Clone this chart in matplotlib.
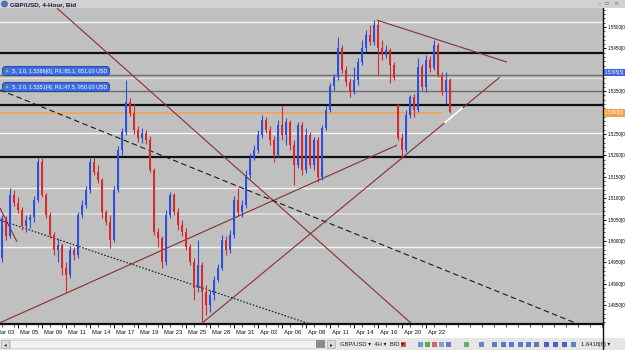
import matplotlib
matplotlib.use('Agg')
import matplotlib.pyplot as plt
import numpy as np
from matplotlib.patches import Rectangle, FancyBboxPatch, Circle
from matplotlib.transforms import Affine2D, blended_transform_factory
from matplotlib.ticker import MultipleLocator, FixedLocator

# ---------------- data (GBP/USD 4-hour candles) ----------------
opens = [1.4960, 1.5054, 1.5012, 1.5107, 1.5089, 1.5072, 1.5035, 1.5049, 1.5056, 1.5096,
         1.5185, 1.5107, 1.5061, 1.5014, 1.4979, 1.4991, 1.4937, 1.4921, 1.4979, 1.4967,
         1.5061, 1.5084, 1.5119, 1.5185, 1.5161, 1.5143, 1.5068, 1.5044, 1.5002, 1.5119,
         1.5213, 1.5255, 1.5325, 1.5299, 1.5259, 1.5241, 1.5252, 1.5236, 1.5166, 1.5021,
         1.5007, 1.4951, 1.5061, 1.5107, 1.5068, 1.5037, 1.5021, 1.4986, 1.4951, 1.4890,
         1.4944, 1.4881, 1.4850, 1.4874, 1.4909, 1.4937, 1.5002, 1.4979, 1.5014, 1.5096,
         1.5068, 1.5084, 1.5154, 1.5194, 1.5213, 1.5248, 1.5283, 1.5259, 1.5236, 1.5201,
         1.5271, 1.5248, 1.5278, 1.5224, 1.5178, 1.5271, 1.5166, 1.5248, 1.5178, 1.5236,
         1.5150, 1.5264, 1.5306, 1.5362, 1.5383, 1.5451, 1.5400, 1.5372, 1.5348, 1.5376,
         1.5418, 1.5451, 1.5481, 1.5465, 1.5505, 1.5451, 1.5435, 1.5446, 1.5411, 1.5318,
         1.5241, 1.5213, 1.5294, 1.5336, 1.5306, 1.5407, 1.5360, 1.5423, 1.5404, 1.5458,
         1.5388, 1.5348, 1.5376]
highs = [1.5061, 1.5059, 1.5124, 1.5119, 1.5103, 1.5080, 1.5061, 1.5063, 1.5105, 1.5194,
         1.5196, 1.5112, 1.5068, 1.5021, 1.5007, 1.4995, 1.4951, 1.4988, 1.4986, 1.5068,
         1.5096, 1.5129, 1.5194, 1.5196, 1.5178, 1.5147, 1.5072, 1.5061, 1.5129, 1.5222,
         1.5264, 1.5376, 1.5334, 1.5320, 1.5269, 1.5264, 1.5259, 1.5245, 1.5171, 1.5030,
         1.5012, 1.5072, 1.5115, 1.5112, 1.5077, 1.5049, 1.5030, 1.4993, 1.4960, 1.5002,
         1.4951, 1.4897, 1.4886, 1.4918, 1.4946, 1.5014, 1.5012, 1.5026, 1.5105, 1.5124,
         1.5096, 1.5166, 1.5206, 1.5224, 1.5259, 1.5294, 1.5290, 1.5269, 1.5245, 1.5283,
         1.5318, 1.5287, 1.5283, 1.5236, 1.5278, 1.5278, 1.5264, 1.5255, 1.5243, 1.5243,
         1.5271, 1.5315, 1.5369, 1.5390, 1.5477, 1.5458, 1.5409, 1.5381, 1.5407, 1.5428,
         1.5470, 1.5493, 1.5505, 1.5516, 1.5516, 1.5470, 1.5458, 1.5451, 1.5418, 1.5320,
         1.5252, 1.5306, 1.5341, 1.5343, 1.5428, 1.5414, 1.5435, 1.5432, 1.5470, 1.5463,
         1.5395, 1.5395, 1.5381]
lows = [1.4951, 1.5002, 1.5007, 1.5082, 1.5065, 1.5026, 1.5021, 1.5030, 1.5044, 1.5091,
        1.5103, 1.5054, 1.5007, 1.4967, 1.4951, 1.4921, 1.4879, 1.4914, 1.4956, 1.4960,
        1.5054, 1.5077, 1.5112, 1.5154, 1.5136, 1.5054, 1.5037, 1.4984, 1.4998, 1.5115,
        1.5201, 1.5248, 1.5292, 1.5250, 1.5231, 1.5229, 1.5227, 1.5161, 1.5014, 1.4986,
        1.4937, 1.4944, 1.5054, 1.5061, 1.5026, 1.5012, 1.4979, 1.4944, 1.4862, 1.4881,
        1.4808, 1.4827, 1.4834, 1.4862, 1.4904, 1.4932, 1.4967, 1.4972, 1.5007, 1.5059,
        1.5056, 1.5077, 1.5147, 1.5189, 1.5206, 1.5241, 1.5252, 1.5224, 1.5185, 1.5196,
        1.5236, 1.5224, 1.5213, 1.5131, 1.5171, 1.5154, 1.5159, 1.5171, 1.5166, 1.5138,
        1.5143, 1.5259, 1.5301, 1.5353, 1.5376, 1.5393, 1.5362, 1.5336, 1.5343, 1.5364,
        1.5411, 1.5442, 1.5458, 1.5458, 1.5388, 1.5423, 1.5428, 1.5369, 1.5376, 1.5236,
        1.5196, 1.5208, 1.5287, 1.5290, 1.5301, 1.5353, 1.5348, 1.5395, 1.5400, 1.5383,
        1.5341, 1.5320, 1.5299]
closes = [1.5054, 1.5012, 1.5107, 1.5089, 1.5072, 1.5035, 1.5049, 1.5056, 1.5096, 1.5185,
          1.5107, 1.5061, 1.5014, 1.4979, 1.4991, 1.4937, 1.4921, 1.4979, 1.4967, 1.5061,
          1.5084, 1.5119, 1.5185, 1.5161, 1.5143, 1.5068, 1.5044, 1.5002, 1.5119, 1.5213,
          1.5255, 1.5325, 1.5299, 1.5259, 1.5241, 1.5252, 1.5236, 1.5166, 1.5021, 1.5007,
          1.4951, 1.5061, 1.5107, 1.5068, 1.5037, 1.5021, 1.4986, 1.4951, 1.4890, 1.4944,
          1.4881, 1.4850, 1.4874, 1.4909, 1.4937, 1.5002, 1.4979, 1.5014, 1.5096, 1.5068,
          1.5084, 1.5154, 1.5194, 1.5213, 1.5248, 1.5283, 1.5259, 1.5236, 1.5201, 1.5271,
          1.5248, 1.5278, 1.5224, 1.5178, 1.5271, 1.5166, 1.5248, 1.5178, 1.5236, 1.5150,
          1.5264, 1.5306, 1.5362, 1.5383, 1.5451, 1.5400, 1.5372, 1.5348, 1.5376, 1.5418,
          1.5451, 1.5481, 1.5465, 1.5505, 1.5451, 1.5435, 1.5446, 1.5411, 1.5381, 1.5241,
          1.5213, 1.5294, 1.5336, 1.5306, 1.5407, 1.5360, 1.5423, 1.5404, 1.5458, 1.5388,
          1.5348, 1.5376, 1.5301]

# date labels (each label marks the start of a trading day)
date_labels = ["Mar 03", "Mar 05", "Mar 09", "Mar 11", "Mar 14", "Mar 17", "Mar 19",
               "Mar 23", "Mar 25", "Mar 28", "Mar 31", "Apr 02", "Apr 06", "Apr 08",
               "Apr 11", "Apr 14", "Apr 16", "Apr 20", "Apr 22"]
date_bars = [-2, 4, 10, 16, 22, 28, 34, 40, 46, 52, 58, 64, 70, 76, 82, 88, 94, 100, 106]

# horizontal levels drawn on the chart
h_levels = [1.5512, 1.5439, 1.5387, 1.5382, 1.5351, 1.5317, 1.5252, 1.5197, 1.5123, 1.5063, 1.4985]
h_colors = ['#F4F4F4', '#101010', '#6E6E6E', '#E6E6E6', '#6E6E6E', '#101010', '#F4F4F4',
            '#101010', '#F4F4F4', '#DADADA', '#F4F4F4']
h_widths = [1.0, 1.6, 1.0, 0.8, 1.0, 1.6, 1.0, 1.6, 1.0, 1.4, 1.0]
bid_level = 1.5300
bid_end_bar = 110.3
ask_label_level = 1.5395

# trend lines: (bar0, price0, bar1, price1)
red_lines = [(13.75, 1.5544, 102.5, 1.4806),
             (50.0, 1.4808, 124.5, 1.5383),
             (-0.5, 1.4809, 98.75, 1.5224),
             (93.75, 1.5516, 126.25, 1.5418),
             (-0.5, 1.5077, 3.75, 1.4998)]
white_segment = (110.75, 1.5277, 115.0, 1.5310)
dashed_line = (-0.5, 1.5353, 144.0, 1.4806)
dotted_line = (-0.5, 1.5049, 77.0, 1.4806)

orders = ["S, 1.0, 1.5386[0], P/L:85.1, 851.00 USD",
          "S, 2.0, 1.5351[4], P/L:47.5, 950.00 USD"]

# ---------------- figure ----------------
W, H = 625, 350
fig = plt.figure(figsize=(W / 100, H / 100), dpi=100)
fig.patch.set_facecolor('white')
PX = Affine2D().scale(1.0 / W, -1.0 / H).translate(0, 1) + fig.transFigure

FONT = ['Liberation Sans', 'DejaVu Sans']

# caption bar
fig.patches.append(Rectangle((0, 0), W, 8, transform=PX, fc='#D2D2D2', ec='none'))
fig.patches.append(Circle((4.5, 4), 3, transform=PX, fc='#4A78C8', ec='#2A4A90', lw=0.4))
fig.text(10, 4.2, "GBP/USD, 4-Hour, Bid", transform=PX, fontsize=4.6, family=FONT,
         color='#1A1A40', va='center', ha='left', fontweight='bold')
for xx, s in [(599, "\u2013"), (607, "\u25ab"), (616, "\u00d7")]:
    fig.text(xx, 3.5, s, transform=PX, fontsize=4.5, family=['DejaVu Sans'], color='#707070',
             va='center', ha='center')

# main axes
ax = fig.add_axes([0, 1 - 324 / H, 603 / W, (324 - 8) / H])
ax.set_facecolor('#C0C0C0')
ax.set_xlim(-0.5, 150.25)
ax.set_ylim(1.48061, 1.55444)

for lv, c, w in zip(h_levels, h_colors, h_widths):
    ax.axhline(lv, color=c, lw=w, zorder=1)
ax.hlines(bid_level, -0.5, bid_end_bar, color='#E8A66A', lw=1.5, zorder=1)

for (b0, p0, b1, p1) in red_lines:
    ax.plot([b0, b1], [p0, p1], color='#8A2E2E', lw=0.8, zorder=2, solid_capstyle='butt')
ax.plot([white_segment[0], white_segment[2]], [white_segment[1], white_segment[3]],
        color='white', lw=1.3, zorder=4)
ax.plot([dashed_line[0], dashed_line[2]], [dashed_line[1], dashed_line[3]],
        color='#1A1A1A', lw=0.8, ls=(0, (5, 3)), zorder=2)
ax.plot([dotted_line[0], dotted_line[2]], [dotted_line[1], dotted_line[3]],
        color='#1A1A1A', lw=0.8, ls=(0, (1.5, 1.5)), zorder=2)

# candles
o = np.array(opens); h = np.array(highs); l = np.array(lows); c = np.array(closes)
xs = np.arange(len(c))
up = c >= o
BLUE, RED = '#2C4FDC', '#D82A2A'
cols = np.where(up, BLUE, RED)
ax.vlines(xs, l, h, colors=cols, lw=0.8, zorder=3)
body_h = np.maximum(np.abs(c - o), 0.00012)
ax.bar(xs, body_h, bottom=np.minimum(o, c), width=0.62, color=cols, edgecolor='none', zorder=3)

# spines / axes
for s in ['left', 'top']:
    ax.spines[s].set_visible(False)
ax.spines['right'].set_color('#101010'); ax.spines['right'].set_linewidth(1.0)
ax.spines['bottom'].set_color('#101010'); ax.spines['bottom'].set_linewidth(1.6)

yt = np.round(np.arange(1.4800, 1.55001, 0.005), 4)
ax.yaxis.set_major_locator(FixedLocator(yt))
ax.yaxis.set_minor_locator(MultipleLocator(0.001))
ylabels = ['' if abs(v - 1.5400) < 1e-6 or abs(v - bid_level) < 1e-6 else f"{v:.4f}[0]" for v in yt]
ax.set_yticklabels(ylabels)
ax.tick_params(axis='y', which='both', left=False, labelleft=False, right=True, labelright=True,
               direction='out', color='#101010')
ax.tick_params(axis='y', which='major', length=2.5, width=0.7, labelsize=3.25, pad=0.6)
ax.tick_params(axis='y', which='minor', length=1.5, width=0.5)
for t in ax.get_yticklabels():
    t.set_family(FONT)

ax.set_xticks([b for b in date_bars if b >= -0.5])
ax.xaxis.set_minor_locator(MultipleLocator(3))
ax.set_xticklabels([])
ax.tick_params(axis='x', which='major', length=3, width=0.7, direction='out', color='#101010')
ax.tick_params(axis='x', which='minor', length=2, width=0.5, direction='out', color='#101010')
trans = blended_transform_factory(ax.transData, ax.transAxes)
for b, lab in zip(date_bars, date_labels):
    ax.text(b + 0.6, -0.02, lab, transform=trans, fontsize=4.2, family=FONT,
            ha='left', va='top', color='#101010', clip_on=False)

# price flags on the right axis
fig.patches.append(Rectangle((604, 68.5), 22, 7.5, transform=PX, fc='#3A64D8', ec='none'))
fig.text(604.8, 72.3, f"{ask_label_level:.4f}[5]", transform=PX, fontsize=3.25, family=FONT,
         color='white', va='center', ha='left')
fig.patches.append(Rectangle((604, 109), 22, 7.5, transform=PX, fc='#F0A04C', ec='none'))
fig.text(604.8, 112.8, f"{bid_level:.4f}[0]", transform=PX, fontsize=3.25, family=FONT,
         color='white', va='center', ha='left')

# order labels
for k, txt in enumerate(orders):
    y0 = 66.5 + 16 * k
    fig.patches.append(FancyBboxPatch((2.5, y0), 107, 9, boxstyle="round,pad=0,rounding_size=3",
                                      transform=PX, fc='#3D6EE2', ec='#1B3A98', lw=0.6))
    fig.patches.append(Circle((7, y0 + 4.5), 1.4, transform=PX, fc='#3CE05A', ec='none'))
    fig.text(12, y0 + 4.7, txt, transform=PX, fontsize=3.9, family=FONT, color='white',
             va='center', ha='left')

# bottom toolbar / scrollbar
fig.patches.append(Rectangle((0, 338), W, 12, transform=PX, fc='#E6E6E6', ec='none'))
fig.patches.append(Rectangle((10, 340), 306, 8, transform=PX, fc='#F2F2F2', ec='#C8C8C8', lw=0.4))
fig.patches.append(Rectangle((1, 340), 8, 8, transform=PX, fc='#DCDCDC', ec='#A0A0A0', lw=0.4))
fig.text(5, 344.3, "\u25c2", transform=PX, fontsize=4, family=['DejaVu Sans'], color='#303030',
         ha='center', va='center')
fig.patches.append(Rectangle((316, 340), 9, 8, transform=PX, fc='#8C8C8C', ec='none'))
fig.patches.append(Rectangle((327, 340), 8, 8, transform=PX, fc='#DCDCDC', ec='#A0A0A0', lw=0.4))
fig.text(331, 344.3, "\u25b8", transform=PX, fontsize=4, family=['DejaVu Sans'], color='#303030',
         ha='center', va='center')
fig.text(340, 344.3, "GBP/USD \u25be  4H \u25be  BID \u25be", transform=PX, fontsize=4.2,
         family=FONT, color='#202020', ha='left', va='center')
icons = [(403, '#D03030'), (420, '#5080D0'), (427, '#30A030'), (434, '#D04040'), (441, '#7090D0'),
         (448, '#4060C0'), (466, '#40A040'), (481, '#4070C0'), (494, '#4060B0'), (503, '#3060D0'),
         (511, '#3060D0'), (520, '#3060D0'), (528, '#3060D0'), (536, '#4060B0'), (546, '#2040C0'),
         (555, '#2040C0'), (564, '#2040C0'), (573, '#3070C0')]
for xx, col in icons:
    fig.patches.append(Rectangle((xx - 2.5, 341.5), 5, 5, transform=PX, fc=col, ec='none', alpha=0.8))
fig.text(581, 344.3, "1.6418[6] \u25be", transform=PX, fontsize=4.2, family=FONT,
         color='#202020', ha='left', va='center')
fig.lines.append(plt.Line2D([603, 603], [324, 350], transform=PX, color='#101010', lw=1.0))

fig.savefig('out.png', dpi=100, facecolor=fig.get_facecolor())
